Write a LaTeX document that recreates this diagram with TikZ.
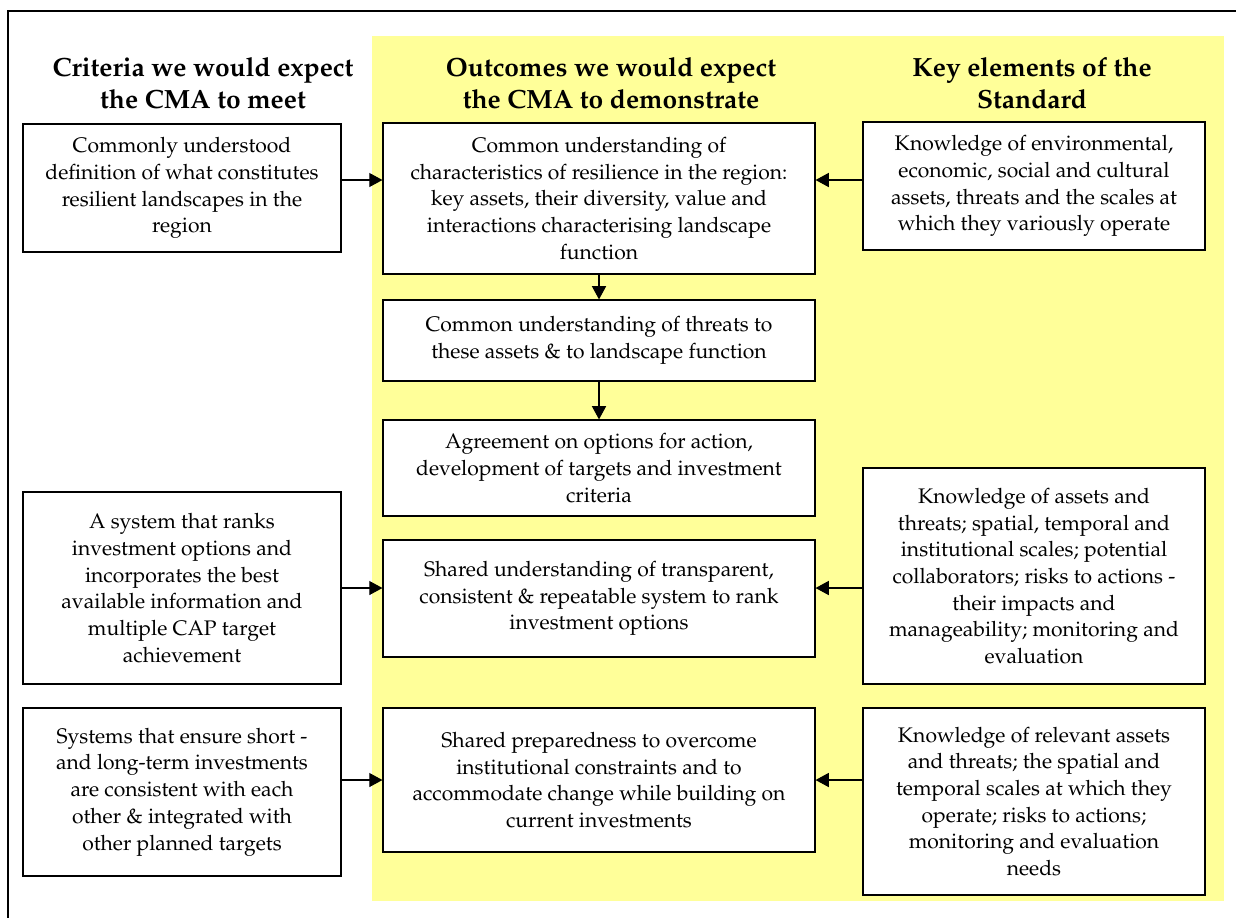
\documentclass[tikz,border=0pt]{standalone}
\usepackage[T1]{fontenc}
\usepackage{mathpazo}
\usetikzlibrary{arrows.meta}
\definecolor{panelyellow}{RGB}{255,255,153}
\tikzset{
  boxnode/.style = {draw=black, fill=white, line width=0.7pt, align=center, inner sep=0pt,
    font=\fontsize{12}{15.2}\selectfont},
  lbox/.style = {boxnode, minimum width=6.36cm},
  mbox/.style = {boxnode, minimum width=8.64cm},
  rbox/.style = {boxnode, minimum width=6.84cm},
  hdr/.style = {align=center, font=\fontsize{15}{18}\selectfont\bfseries},
  link/.style = {line width=0.6pt, draw=black, ->}
}

\begin{document}
\begin{tikzpicture}[x=0.02cm, y=-0.02cm, >={Triangle[length=7.5pt,width=8pt]}]
\useasboundingbox (0,0) rectangle (1236,917);

% frame and panel
\draw[line width=1.1pt] (8,930) -- (8,11) -- (1250,11);
\fill[panelyellow] (372,36) rectangle (1224,901);

% column headings
\node [hdr] (hcrit) at (203,83) {Criteria we would expect\\the CMA to meet};
\node [hdr] (hout)  at (611,83) {Outcomes we would expect\\the CMA to demonstrate};
\node [hdr] (hkey)  at (1032,83) {Key elements of the\\Standard};

% criteria
\node [lbox, minimum height=2.56cm] (crit1) at (182,188) {Commonly understood\\definition of what constitutes\\resilient landscapes in the\\region};
\node [lbox, minimum height=3.84cm] (crit2) at (182,588) {A system that ranks\\investment options and\\incorporates the best\\available information and\\multiple CAP target\\achievement};
\node [lbox, minimum height=3.36cm] (crit3) at (182,792) {Systems that ensure short -\\and long-term investments\\are consistent with each\\other \& integrated with\\other planned targets};

% outcomes
\node [mbox, minimum height=3.02cm] (out1) at (599,198.5) {Common understanding of\\characteristics of resilience in the region:\\key assets, their diversity, value and\\interactions characterising landscape\\function};
\node [mbox, minimum height=1.62cm] (out2) at (599,340.5) {Common understanding of threats to\\these assets \& to landscape function};
\node [mbox, minimum height=1.92cm] (out3) at (599,468) {Agreement on options for action,\\development of targets and investment\\criteria};
\node [mbox, minimum height=2.34cm] (out4) at (599,598.5) {Shared understanding of transparent,\\consistent \& repeatable system to rank\\investment options};
\node [mbox, minimum height=2.88cm] (out5) at (599,780) {Shared preparedness to overcome\\institutional constraints and to\\accommodate change while building on\\current investments};

% key elements
\node [rbox, minimum height=2.56cm] (key1) at (1034,186) {Knowledge of environmental,\\economic, social and cultural\\assets, threats and the scales at\\which they variously operate};
\node [rbox, minimum height=4.32cm] (key2) at (1034,576) {Knowledge of assets and\\threats; spatial, temporal and\\institutional scales; potential\\collaborators; risks to actions -\\their impacts and\\manageability; monitoring and\\evaluation};
\node [rbox, minimum height=3.74cm] (key3) at (1034,801.5) {Knowledge of relevant assets\\and threats; the spatial and\\temporal scales at which they\\operate; risks to actions;\\monitoring and evaluation\\needs};

% connectors
\draw [link] (crit1.east |- 0,180) -- (out1.west |- 0,180);
\draw [link] (key1.west |- 0,180) -- (out1.east |- 0,180);
\draw [link] (out1.south) -- (out2.north);
\draw [link] (out2.south) -- (out3.north);
\draw [link] (crit2.east |- 0,588) -- (out4.west |- 0,588);
\draw [link] (key2.west |- 0,588) -- (out4.east |- 0,588);
\draw [link] (crit3.east |- 0,780) -- (out5.west);
\draw [link] (key3.west |- 0,780) -- (out5.east);
\end{tikzpicture}
\end{document}
